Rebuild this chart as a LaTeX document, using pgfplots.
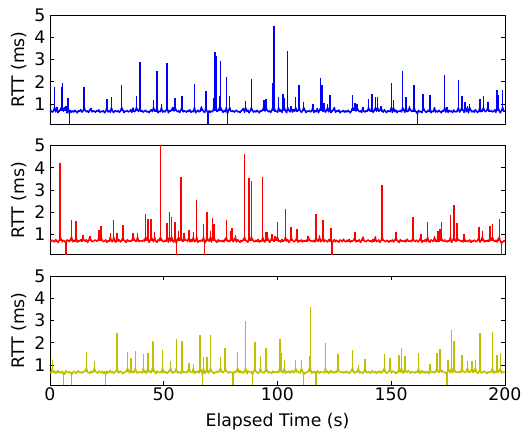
\documentclass[border=0pt]{standalone}
\usepackage{fontspec}
\setmainfont{DejaVu Sans}
\usepackage{pgfplots}
\usepackage{pgfplotstable}
\pgfplotsset{compat=1.18}
\definecolor{mpblue}{RGB}{0,0,255}
\definecolor{mpred}{RGB}{255,0,0}
\definecolor{mpyel}{RGB}{191,191,0}

\pgfplotstableread[row sep=\\]{
y\\
.66\\ .70\\ .63\\ .68\\ 1.75\\ .64\\ .88\\ .61\\ .69\\ .74\\ 1.75\\ 1.94\\ .70\\ .85\\ .92\\ .60\\ 1.27\\ 0.0\\ .71\\ .63\\
.69\\ .64\\ .72\\ .66\\ .60\\ .70\\ .67\\ .75\\ .63\\ .68\\ 1.76\\ .71\\ .65\\ .69\\ .61\\ .73\\ .80\\ .64\\ .70\\ .67\\
.63\\ .71\\ .66\\ .74\\ .62\\ .68\\ .65\\ .70\\ .60\\ .67\\ 1.22\\ .64\\ .69\\ .63\\ 1.31\\ .66\\ .61\\ .70\\ .68\\ .65\\
.70\\ .62\\ .68\\ 1.87\\ .73\\ .61\\ .69\\ .66\\ .71\\ .64\\ .67\\ .74\\ .62\\ .82\\ .65\\ .68\\ 1.37\\ .72\\ .66\\ 2.87\\
.66\\ .70\\ .63\\ .68\\ .72\\ .64\\ .67\\ .61\\ .69\\ .74\\ .65\\ 1.20\\ .70\\ .67\\ 2.50\\ .60\\ .68\\ .65\\ 1.00\\ .63\\
.69\\ .64\\ .72\\ 2.83\\ .60\\ .70\\ .67\\ .75\\ .85\\ .68\\ 1.25\\ .71\\ .65\\ .69\\ .61\\ .73\\ 1.37\\ .64\\ .70\\ .67\\
.63\\ .71\\ .66\\ .74\\ .62\\ .68\\ .65\\ 1.90\\ .60\\ .67\\ .72\\ .64\\ .69\\ .90\\ .75\\ .66\\ .61\\ 1.57\\ .68\\ 0.0\\
.70\\ .62\\ .68\\ .65\\ 1.27\\ 3.32\\ 3.17\\ .66\\ .71\\ 1.34\\ 2.95\\ .74\\ .62\\ .70\\ .65\\ 2.21\\ 0.0\\ .72\\ 1.34\\ .69\\
.66\\ .70\\ .63\\ .68\\ .72\\ .64\\ .67\\ .61\\ .69\\ .74\\ .80\\ .62\\ 1.12\\ .67\\ .73\\ .60\\ .68\\ 2.12\\ .71\\ .63\\
.69\\ .64\\ .72\\ .66\\ .60\\ .70\\ .67\\ .75\\ 1.20\\ .68\\ 1.24\\ .71\\ .65\\ .69\\ .61\\ .73\\ 1.94\\ 4.52\\ .70\\ .67\\
.63\\ 1.31\\ .66\\ .74\\ .62\\ 1.45\\ 1.25\\ .70\\ .60\\ 3.40\\ .72\\ .64\\ .90\\ .63\\ .75\\ .66\\ 1.31\\ .70\\ .68\\ 1.87\\
.70\\ .62\\ .68\\ 1.07\\ .73\\ .61\\ .69\\ .66\\ .71\\ .64\\ .67\\ 1.00\\ .62\\ .70\\ .65\\ .80\\ .60\\ .72\\ 2.18\\ 1.87\\
.66\\ 1.05\\ .63\\ .68\\ 1.00\\ .64\\ 1.42\\ .61\\ .69\\ .74\\ .85\\ .62\\ .70\\ .67\\ .73\\ .60\\ .68\\ .65\\ .71\\ .63\\
.69\\ .64\\ .72\\ .66\\ .60\\ .70\\ 1.40\\ .75\\ 1.05\\ .68\\ 1.00\\ .71\\ .65\\ .69\\ .61\\ .88\\ .66\\ .64\\ .70\\ .67\\
1.22\\ .71\\ .66\\ 1.45\\ .62\\ .68\\ 1.31\\ .70\\ 1.31\\ .67\\ .72\\ .92\\ .69\\ .63\\ .75\\ .66\\ .61\\ .70\\ .68\\ .65\\
1.96\\ .62\\ 1.20\\ .65\\ .73\\ .61\\ .69\\ .66\\ .71\\ .64\\ 2.50\\ .74\\ .62\\ 1.31\\ .65\\ .68\\ .92\\ .72\\ .66\\ .69\\
1.85\\ .70\\ .63\\ 0.0\\ .72\\ .64\\ .67\\ .61\\ 1.45\\ .74\\ .65\\ .62\\ .70\\ .67\\ 1.39\\ .60\\ .68\\ .65\\ .88\\ .63\\
.69\\ .64\\ .72\\ .66\\ .60\\ .70\\ .67\\ 2.29\\ .63\\ .85\\ .62\\ .71\\ .65\\ .69\\ .61\\ .73\\ .66\\ .64\\ .70\\ 2.08\\
.63\\ .71\\ 1.34\\ .74\\ .62\\ 1.07\\ .65\\ .92\\ .60\\ 1.00\\ .72\\ .64\\ .69\\ .63\\ .75\\ .66\\ .61\\ .70\\ 1.24\\ .65\\
.70\\ 1.37\\ .68\\ .65\\ .73\\ 1.10\\ .69\\ .66\\ .71\\ .64\\ .67\\ .74\\ .62\\ 1.64\\ 1.39\\ .68\\ .60\\ .72\\ 1.64\\ .69\\
.66\\
}\bluedata

\pgfplotstableread[row sep=\\]{
y\\
.72\\ .68\\ .75\\ .70\\ .66\\ .77\\ .71\\ .64\\ .73\\ 4.20\\ .78\\ .67\\ .74\\ .70\\ 0.0\\ .76\\ .72\\ .68\\ .79\\ 1.66\\
.67\\ .74\\ .70\\ 1.62\\ .65\\ .72\\ .69\\ .76\\ .71\\ .98\\ .73\\ .70\\ .77\\ .64\\ .72\\ .92\\ .75\\ .70\\ .67\\ .74\\
.75\\ .69\\ .72\\ 1.21\\ .78\\ 1.40\\ .73\\ .67\\ .71\\ .76\\ .64\\ .72\\ .69\\ 1.05\\ .70\\ .67\\ 1.65\\ .71\\ .65\\ 1.05\\
.70\\ .76\\ .66\\ .73\\ 1.44\\ .75\\ .71\\ .64\\ .77\\ .70\\ .72\\ .68\\ .74\\ 1.05\\ .79\\ .71\\ .69\\ 1.05\\ .67\\ .72\\
.72\\ .68\\ .75\\ .70\\ 1.93\\ .77\\ 1.69\\ .64\\ .73\\ 1.70\\ .78\\ .67\\ 1.09\\ .70\\ .65\\ .76\\ .72\\ 5.20\\ .79\\ .70\\
.67\\ .74\\ .70\\ 1.51\\ .65\\ 2.02\\ .69\\ 1.77\\ .71\\ .66\\ 1.56\\ 0.0\\ .77\\ 1.14\\ .72\\ 3.59\\ .75\\ .70\\ 1.05\\ .74\\
.75\\ .69\\ 1.20\\ .66\\ .78\\ .70\\ 1.12\\ .67\\ .71\\ 2.53\\ .64\\ .72\\ .69\\ .75\\ .70\\ 1.47\\ 0.0\\ .71\\ 2.00\\ .73\\
.70\\ 1.14\\ .66\\ 1.74\\ 1.47\\ .75\\ .71\\ .64\\ .77\\ .70\\ .72\\ .68\\ .74\\ .66\\ .79\\ 1.65\\ .69\\ .73\\ .67\\ 1.17\\
1.28\\ .68\\ .75\\ .97\\ .66\\ .77\\ .71\\ .64\\ .73\\ .69\\ .78\\ 4.62\\ .74\\ .70\\ .65\\ 3.54\\ .72\\ 3.39\\ .79\\ .70\\
.67\\ .74\\ .70\\ .78\\ .65\\ .72\\ .69\\ 3.60\\ .71\\ .66\\ 1.09\\ 1.09\\ .77\\ .64\\ .72\\ 1.02\\ .75\\ .70\\ .92\\ .74\\
1.56\\ .69\\ .72\\ .66\\ .78\\ .70\\ .73\\ 2.16\\ .71\\ .76\\ .64\\ .72\\ 1.35\\ .75\\ .70\\ .67\\ .74\\ 1.26\\ .65\\ .73\\
.70\\ .76\\ .66\\ .73\\ .69\\ .75\\ .71\\ .92\\ .77\\ .70\\ .72\\ .68\\ .74\\ .66\\ 1.92\\ .71\\ .69\\ .96\\ .67\\ .72\\
1.66\\ .68\\ .75\\ .70\\ .66\\ .77\\ .71\\ 1.29\\ 0.0\\ .69\\ .78\\ .67\\ .74\\ .70\\ .65\\ .76\\ .72\\ .68\\ .79\\ .70\\
.67\\ .74\\ .70\\ .78\\ .65\\ .72\\ .69\\ .76\\ 1.10\\ .66\\ .73\\ .70\\ .77\\ .64\\ .72\\ .90\\ .75\\ .70\\ .67\\ .74\\
.75\\ .69\\ .72\\ .66\\ .78\\ .70\\ .94\\ .67\\ .71\\ .76\\ .64\\ .72\\ 3.23\\ .75\\ .70\\ .67\\ .74\\ .71\\ .65\\ .73\\
.70\\ .76\\ .66\\ .73\\ 1.10\\ .75\\ .71\\ .64\\ .77\\ .70\\ .72\\ .68\\ .74\\ .66\\ .79\\ .71\\ .69\\ .73\\ .67\\ 1.78\\
.72\\ .68\\ .75\\ .70\\ .66\\ .77\\ 1.00\\ .64\\ .73\\ .69\\ .78\\ .67\\ 1.57\\ .70\\ .65\\ .76\\ .72\\ .68\\ .92\\ .70\\
.67\\ 1.15\\ .70\\ 1.26\\ 1.56\\ .72\\ .69\\ .76\\ .71\\ .66\\ .73\\ .70\\ 1.86\\ .64\\ .72\\ 2.32\\ .75\\ .70\\ 1.53\\ .74\\
.75\\ .69\\ .72\\ .66\\ 1.00\\ .70\\ .73\\ .67\\ .71\\ .76\\ .64\\ .72\\ .69\\ .75\\ .70\\ .67\\ .74\\ 1.33\\ .65\\ .73\\
1.17\\ .76\\ .66\\ .73\\ .69\\ .75\\ .71\\ 1.39\\ .77\\ 1.45\\ .72\\ .68\\ .74\\ .66\\ .79\\ 1.69\\ .69\\ 0.0\\ .67\\ .72\\
.70\\
}\reddata

\pgfplotstableread[row sep=\\]{
y\\
.68\\ .64\\ 1.23\\ .66\\ .73\\ .62\\ .69\\ .75\\ .65\\ .70\\ .63\\ .72\\ 0.0\\ .61\\ .74\\ .68\\ .66\\ .71\\ .64\\ 0.0\\
.65\\ .72\\ .67\\ .62\\ .70\\ .74\\ .66\\ .69\\ .63\\ .71\\ .68\\ .75\\ 1.59\\ .70\\ .66\\ .62\\ .73\\ .67\\ .69\\ 1.20\\
.71\\ .66\\ .63\\ .74\\ .68\\ .65\\ .72\\ .61\\ .70\\ 0.0\\ .73\\ .64\\ .69\\ .76\\ .65\\ .70\\ .62\\ .68\\ .72\\ 2.45\\
.64\\ .70\\ .73\\ .67\\ .61\\ .69\\ .66\\ .72\\ 1.60\\ .75\\ .63\\ 1.32\\ .65\\ .71\\ .67\\ 1.65\\ .69\\ .63\\ .70\\ .68\\
.68\\ .64\\ 1.50\\ .66\\ .73\\ .62\\ 1.54\\ .75\\ .65\\ .70\\ 2.10\\ 2.04\\ .67\\ .61\\ .74\\ .68\\ .66\\ .71\\ .64\\ 1.68\\
.65\\ .72\\ .67\\ .62\\ .70\\ .74\\ 1.20\\ .69\\ .63\\ .71\\ .68\\ 2.19\\ .64\\ .70\\ .66\\ .62\\ 2.09\\ .67\\ .69\\ .65\\
.71\\ .66\\ 1.09\\ .74\\ .68\\ .65\\ 1.05\\ .61\\ .70\\ .67\\ .73\\ .64\\ 2.34\\ .76\\ 0.0\\ 1.38\\ .62\\ .68\\ 1.38\\ .66\\
.64\\ 2.33\\ .73\\ .67\\ .61\\ .69\\ .66\\ .72\\ .68\\ .75\\ 1.35\\ .70\\ .65\\ .71\\ 1.78\\ .74\\ .69\\ .63\\ .70\\ .68\\
.68\\ 0.0\\ .71\\ .66\\ .73\\ 1.59\\ .69\\ .75\\ .65\\ .70\\ .63\\ .72\\ 2.96\\ .61\\ .74\\ .68\\ .66\\ .71\\ 0.0\\ .70\\
2.04\\ .72\\ .67\\ .62\\ .70\\ 1.40\\ .66\\ .69\\ .63\\ .71\\ 1.77\\ .75\\ .64\\ .70\\ .66\\ .62\\ .73\\ .67\\ .69\\ .65\\
.71\\ .66\\ 2.19\\ 1.56\\ .68\\ .65\\ 1.24\\ .61\\ .70\\ .67\\ .73\\ .64\\ .69\\ .76\\ .65\\ .70\\ 1.24\\ .68\\ .72\\ .66\\
.64\\ 1.24\\ .73\\ 0.0\\ .61\\ .69\\ .66\\ .72\\ 1.39\\ 3.61\\ .63\\ .70\\ .65\\ .71\\ 0.0\\ .74\\ .69\\ .63\\ .70\\ .68\\
.68\\ .64\\ 2.00\\ .66\\ .73\\ .62\\ .69\\ .75\\ .65\\ .70\\ .63\\ .72\\ .67\\ 1.50\\ .74\\ .68\\ .66\\ .71\\ .64\\ .70\\
.65\\ .72\\ .67\\ .62\\ .70\\ .74\\ 1.68\\ .69\\ .63\\ .71\\ .68\\ 1.00\\ .64\\ .70\\ .66\\ .62\\ .73\\ 1.27\\ .69\\ .65\\
.71\\ .66\\ .63\\ .74\\ .68\\ .65\\ .72\\ .61\\ .70\\ .67\\ .73\\ .64\\ .69\\ .76\\ 1.50\\ .70\\ .62\\ .68\\ .72\\ 1.32\\
.64\\ .70\\ .73\\ .67\\ .61\\ .69\\ .66\\ 1.47\\ .68\\ 1.78\\ .63\\ .70\\ 1.39\\ .71\\ .67\\ .74\\ .69\\ .63\\ .70\\ .68\\
.68\\ .64\\ .71\\ .66\\ 1.54\\ .62\\ .69\\ .75\\ .65\\ .70\\ .63\\ .72\\ .67\\ .61\\ 1.05\\ .68\\ .66\\ .71\\ .64\\ .70\\
1.54\\ .72\\ .67\\ 1.74\\ .70\\ .74\\ .66\\ .69\\ .63\\ 0.0\\ 1.24\\ .75\\ .64\\ 2.57\\ .66\\ 2.07\\ .73\\ .67\\ .69\\ .65\\
.71\\ .66\\ 1.47\\ .74\\ .68\\ .65\\ .72\\ 1.17\\ .70\\ .67\\ .73\\ 1.17\\ .69\\ .76\\ 1.23\\ .70\\ .62\\ .68\\ 2.43\\ .66\\
.64\\ .70\\ .73\\ .67\\ .61\\ .69\\ .66\\ .72\\ .68\\ 2.49\\ .63\\ .70\\ .65\\ 1.47\\ .67\\ .74\\ 1.53\\ .63\\ .70\\ .68\\
.66\\
}\yeldata

\pgfplotsset{
  rttpanel/.style={
    width=455pt, height=109pt, scale only axis,
    xmin=0, xmax=200, ymin=0.1, ymax=5,
    ytick={1,2,3,4,5},
    tick align=inside,
    major tick length=4pt,
    tick style={black, line width=0.8pt},
    axis line style={black, line width=0.9pt},
    /pgf/number format/assume math mode=true,
    tick label style={font=\fontsize{17.3}{20}\selectfont, inner sep=0pt},
    yticklabel shift=4.5pt,
    xticklabel shift=2.7pt,
    ylabel={RTT (ms)},
    ylabel style={font=\fontsize{17.3}{20}\selectfont, at={(axis description cs:-0.068,0.5)}, anchor=center, inner sep=0pt},
    clip=true,
  },
  trace/.style={line width=1.4pt, line join=round, no markers},
  comb/.style={draw=none, no markers,
    error bars/.cd, y dir=both, y explicit, error mark=none,
    error bar style={line width=1.5pt, draw=#1, solid}},
}

\begin{document}
\begin{tikzpicture}[x=1pt,y=1pt]
\path[use as bounding box] (0,0) rectangle (525,433);
\begin{axis}[rttpanel, at={(50pt,309pt)}, anchor=south west, xtick=\empty]
\addplot[mpblue, trace] table[x index=0, y index=0, x expr=\coordindex*0.5, y expr={min(max(\thisrow{y},0.56),0.84)}] {\bluedata};
\addplot[comb=mpblue] table[x index=0, y index=0, x expr=\coordindex*0.5, y expr={0.68},
  y error plus expr={max(\thisrow{y}-0.68,0)}, y error minus expr={max(0.68-\thisrow{y},0)}] {\bluedata};
\end{axis}
\begin{axis}[rttpanel, at={(50pt,178.5pt)}, anchor=south west, xtick=\empty]
\addplot[mpred, trace] table[x index=0, y index=0, x expr=\coordindex*0.5, y expr={min(max(\thisrow{y},0.60),0.88)}] {\reddata};
\addplot[comb=mpred] table[x index=0, y index=0, x expr=\coordindex*0.5, y expr={0.72},
  y error plus expr={max(\thisrow{y}-0.72,0)}, y error minus expr={max(0.72-\thisrow{y},0)}] {\reddata};
\end{axis}
\begin{axis}[rttpanel, at={(50pt,48pt)}, anchor=south west,
  xtick={0,50,100,150,200},
  xlabel={Elapsed Time (s)},
  xlabel style={font=\fontsize{17.3}{20}\selectfont, at={(axis description cs:0.5,-0.3826)}, anchor=base, inner sep=0pt}]
\addplot[mpyel, trace] table[x index=0, y index=0, x expr=\coordindex*0.5, y expr={min(max(\thisrow{y},0.56),0.86)}] {\yeldata};
\addplot[comb=mpyel] table[x index=0, y index=0, x expr=\coordindex*0.5, y expr={0.68},
  y error plus expr={max(\thisrow{y}-0.68,0)}, y error minus expr={max(0.68-\thisrow{y},0)}] {\yeldata};
\end{axis}
\end{tikzpicture}
\end{document}
